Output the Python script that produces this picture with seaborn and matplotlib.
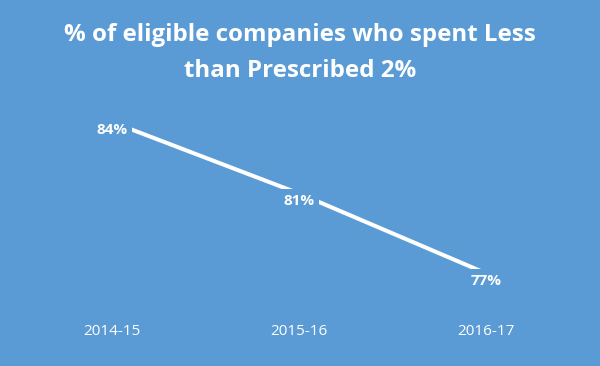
import matplotlib
matplotlib.use('Agg')
import matplotlib.pyplot as plt
import seaborn as sns
import pandas as pd

# Data
years = ['2014-15', '2015-16', '2016-17']
pct_less = [84.4, 81.0, 77.2]
labels = ['84%', '81%', '77%']

bg = '#5B9BD5'

sns.set_style('white')
plt.rcParams['font.family'] = ['Open Sans', 'DejaVu Sans']

df = pd.DataFrame({'year': years, 'pct': pct_less})

fig = plt.figure(figsize=(6, 3.66), dpi=100, facecolor=bg)
ax = fig.add_axes([0, 56 / 366, 1, 310 / 366])
ax.set_facecolor(bg)

sns.lineplot(data=df, x='year', y='pct', ax=ax, color='white', linewidth=2.9, sort=False)

for i, (v, lab) in enumerate(zip(pct_less, labels)):
    ax.annotate(lab, (i, v), xytext=(0, -5.5), textcoords='offset points',
                ha='center', va='center', color='white',
                fontsize=11, fontweight='bold',
                bbox=dict(boxstyle='square,pad=0.3', facecolor=bg, edgecolor='none'))

ax.set_xlim(-0.599, 2.61)
ax.set_ylim(75.45, 90.21)
ax.set_yticks([])
ax.set_xlabel('')
ax.set_ylabel('')
ax.tick_params(axis='x', length=0, pad=10, colors='white', labelsize=11)
for s in ax.spines.values():
    s.set_visible(False)

fig.text(0.5, 1 - 53 / 366, '% of eligible companies who spent Less\nthan Prescribed 2%',
         ha='center', va='center', color='white', fontsize=17.4, fontweight='bold',
         linespacing=1.7)

fig.savefig('out.png', dpi=100, facecolor=bg)
